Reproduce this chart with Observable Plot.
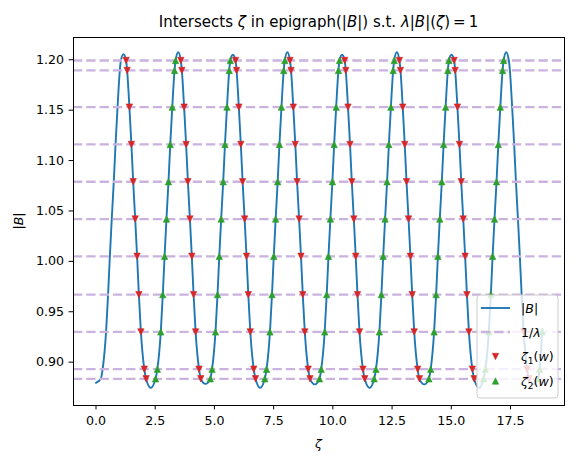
<!DOCTYPE html>
<html><head><meta charset="utf-8">
<script src="https://cdn.jsdelivr.net/npm/d3@7"></script>
<script src="https://cdn.jsdelivr.net/npm/@observablehq/plot@0.6"></script>
<style>body{margin:0;background:#fff}#chart{width:580px;height:461px}</style>
</head><body><div id="chart"></div>
<script>
// ---- values ----
const peakZeta = [1.16, 3.47, 5.78, 8.08, 10.39, 12.70, 15.01, 17.32];
const peakB    = [1.2055, 1.2075, 1.2050, 1.2075, 1.2050, 1.2075, 1.2050, 1.2075];
const troughZeta = [0.00, 2.31, 4.62, 6.93, 9.24, 11.55, 13.86, 16.17, 18.48];
const troughB    = [0.8795, 0.8745, 0.8785, 0.8745, 0.8780, 0.8745, 0.8780, 0.8745, 0.8780];
// 1/lambda levels (dashed lines)
const invLambda   = [1.1993, 1.1894, 1.153, 1.116, 1.079, 1.042, 1.005, 0.967, 0.930, 0.893, 0.8835];
// distance in zeta from a peak at which |B| crosses each level
const crossOffset = [0.11, 0.155, 0.25, 0.335, 0.41, 0.495, 0.575, 0.65, 0.735, 0.88, 0.955];
// rise after the last trough up to the end of the field line
const tailZeta = [18.66, 18.73, 18.84, 18.85];
const tailB    = [0.8835, 0.893, 0.930, 0.933];
const xTicks = [0, 2.5, 5, 7.5, 10, 12.5, 15, 17.5];
const yTicks = [0.90, 0.95, 1.00, 1.05, 1.10, 1.15, 1.20];

// ---- build tables ----
const curvePts = [];
troughZeta.forEach((z, i) => curvePts.push({zeta: z, B: troughB[i]}));
peakZeta.forEach((p, i) => {
  curvePts.push({zeta: p, B: peakB[i]});
  invLambda.forEach((L, j) => {
    curvePts.push({zeta: p - crossOffset[j], B: L});
    curvePts.push({zeta: p + crossOffset[j], B: L});
  });
});
tailZeta.forEach((z, i) => curvePts.push({zeta: z, B: tailB[i]}));
curvePts.sort((a, b) => a.zeta - b.zeta);

const zeta1 = [], zeta2 = [];
invLambda.forEach((L, j) => {
  peakZeta.forEach((p, i) => {
    if (i < peakZeta.length - 1) zeta1.push({zeta: p + crossOffset[j], B: L});
    if (i > 0) zeta2.push({zeta: p - crossOffset[j], B: L});
  });
  const t = tailB.indexOf(L);
  if (t >= 0) {
    zeta1.push({zeta: peakZeta[peakZeta.length - 1] + crossOffset[j], B: L});
    zeta2.push({zeta: tailZeta[t], B: L});
  }
});

const triDown = {draw(ctx, size){const r = Math.sqrt(size/Math.PI); ctx.moveTo(-r,-r); ctx.lineTo(r,-r); ctx.lineTo(0,r); ctx.closePath();}};
const triUp   = {draw(ctx, size){const r = Math.sqrt(size/Math.PI); ctx.moveTo(0,-r); ctx.lineTo(r,r); ctx.lineTo(-r,r); ctx.closePath();}};

const BLUE = "#1f77b4", RED = "#d62728", GREEN = "#2ca02c", PURPLE = "#cab3de";
const DASH = "9.3,4";

const chart = Plot.plot({
  width: 580, height: 461,
  marginLeft: 73, marginRight: 16, marginTop: 37, marginBottom: 56,
  x: {domain: [-0.95, 19.78]},
  y: {domain: [0.857, 1.2221]},
  style: {fontFamily: "DejaVu Sans", fontSize: "12.6px", background: "white", color: "black"},
  marks: [
    Plot.line(curvePts, {x: "zeta", y: "B", stroke: BLUE, strokeWidth: 1.9, curve: "monotone-x"}),
    Plot.ruleY(invLambda, {stroke: PURPLE, strokeWidth: 2.3, strokeDasharray: DASH}),
    Plot.dot(zeta1, {x: "zeta", y: "B", symbol: triDown, r: 3.2, fill: RED, stroke: RED, strokeWidth: 0.6}),
    Plot.dot(zeta2, {x: "zeta", y: "B", symbol: triUp, r: 3.2, fill: GREEN, stroke: GREEN, strokeWidth: 0.6}),
    Plot.frame({stroke: "black", strokeWidth: 1}),
    Plot.axisX({ticks: xTicks, tickFormat: d3.format(".1f"), tickSize: 4.4, tickPadding: 6, label: null}),
    Plot.axisY({ticks: yTicks, tickFormat: d3.format(".2f"), tickSize: 4.4, tickPadding: 5, label: null})
  ]
});
document.getElementById("chart").appendChild(chart);

// ---- titles, labels, legend ----
const svg = d3.select(chart);
function rich(sel, parts) {
  parts.forEach(([t, s]) => {
    const ts = sel.append("tspan").text(t);
    if (s === "i") ts.attr("font-style", "italic");
    if (s === "sub") ts.attr("font-size", "9px").attr("dy", 3);
    if (s === "unsub") ts.attr("dy", -3);
  });
}
const g = svg.append("g").attr("font-family", "DejaVu Sans").attr("fill", "black");
const title = g.append("text").attr("x", 318.5).attr("y", 27).attr("text-anchor", "middle").attr("font-size", 15);
rich(title, [["Intersects "], ["ζ", "i"], [" in epigraph(|"], ["B", "i"], ["|) s.t. "], ["λ", "i"], ["|"], ["B", "i"], ["|("], ["ζ", "i"], [")\u2009=\u20091"]]);
g.append("text").attr("x", 318.5).attr("y", 448).attr("text-anchor", "middle").attr("font-size", 12.6).attr("font-style", "italic").text("ζ");
const yl = g.append("text").attr("transform", "translate(23,221) rotate(-90)").attr("text-anchor", "middle").attr("font-size", 12.6);
rich(yl, [["|"], ["B", "i"], ["|"]]);

const lg = svg.append("g").attr("font-family", "DejaVu Sans");
lg.append("rect").attr("x", 477).attr("y", 295).attr("width", 81).attr("height", 103).attr("rx", 3)
  .attr("fill", "white").attr("fill-opacity", 0.8).attr("stroke", "#cccccc").attr("stroke-width", 1);
const rows = [308, 332, 356.5, 381];
lg.append("line").attr("x1", 481).attr("x2", 510).attr("y1", rows[0]).attr("y2", rows[0]).attr("stroke", BLUE).attr("stroke-width", 1.9);
lg.append("line").attr("x1", 481).attr("x2", 510).attr("y1", rows[1]).attr("y2", rows[1]).attr("stroke", PURPLE).attr("stroke-width", 2.3).attr("stroke-dasharray", DASH);
lg.append("path").attr("transform", `translate(495.5,${rows[2]})`).attr("d", d3.symbol(triDown, Math.PI*3.2*3.2)()).attr("fill", RED).attr("stroke", RED).attr("stroke-width", 0.6);
lg.append("path").attr("transform", `translate(495.5,${rows[3]})`).attr("d", d3.symbol(triUp, Math.PI*3.2*3.2)()).attr("fill", GREEN).attr("stroke", GREEN).attr("stroke-width", 0.6);
const labels = [
  [["|"], ["B", "i"], ["|"]],
  [["1/"], ["λ", "i"]],
  [["ζ", "i"], ["1", "sub"], ["(", "unsub"], ["w", "i"], [")"]],
  [["ζ", "i"], ["2", "sub"], ["(", "unsub"], ["w", "i"], [")"]]
];
labels.forEach((parts, k) => {
  const t = lg.append("text").attr("x", 521).attr("y", rows[k] + 4.5).attr("text-anchor", "start").attr("font-size", 12.6).attr("fill", "black");
  rich(t, parts);
});
</script></body></html>
